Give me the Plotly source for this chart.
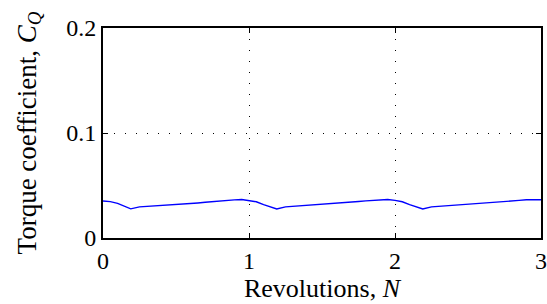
import plotly.graph_objects as go

revolutions = [0.00, 0.05, 0.10, 0.15, 0.19, 0.25, 0.30, 0.35, 0.40, 0.45, 0.50, 0.55, 0.60, 0.65, 0.70, 0.75, 0.80, 0.85, 0.90, 0.95,
               1.00, 1.05, 1.10, 1.15, 1.19, 1.25, 1.30, 1.35, 1.40, 1.45, 1.50, 1.55, 1.60, 1.65, 1.70, 1.75, 1.80, 1.85, 1.90, 1.95,
               2.00, 2.05, 2.10, 2.15, 2.19, 2.25, 2.30, 2.35, 2.40, 2.45, 2.50, 2.55, 2.60, 2.65, 2.70, 2.75, 2.80, 2.85, 2.90, 2.95, 3.00]
torque_coeff = [0.0352, 0.0346, 0.0330, 0.0300, 0.0278, 0.0296, 0.0300, 0.0304, 0.0308, 0.0312, 0.0318, 0.0322, 0.0328, 0.0334, 0.0340, 0.0347, 0.0353, 0.0358, 0.0363, 0.0367,
                0.0357, 0.0345, 0.0318, 0.0292, 0.0277, 0.0296, 0.0301, 0.0305, 0.0309, 0.0313, 0.0318, 0.0322, 0.0328, 0.0334, 0.0341, 0.0348, 0.0354, 0.0358, 0.0364, 0.0367,
                0.0358, 0.0345, 0.0318, 0.0292, 0.0277, 0.0296, 0.0301, 0.0305, 0.0309, 0.0313, 0.0318, 0.0322, 0.0328, 0.0334, 0.0341, 0.0348, 0.0353, 0.0358, 0.0364, 0.0366, 0.0364]
x_ticks = [0, 1, 2, 3]
y_ticks = [0, 0.1, 0.2]
y_tick_labels = ["0", "0.1", "0.2"]

FONT = "Liberation Serif, Times New Roman, serif"

fig = go.Figure()
fig.add_trace(go.Scatter(x=revolutions, y=torque_coeff, mode="lines",
                         line=dict(color="#0000ff", width=1.4), showlegend=False))

axis_common = dict(showline=True, mirror="ticks", linecolor="black", linewidth=2,
                   ticks="inside", ticklen=5, tickwidth=1, tickcolor="black",
                   showgrid=True, gridcolor="black", gridwidth=1, griddash="1px,10px",
                   zeroline=False, tickfont=dict(family=FONT, size=24, color="black"))

fig.update_xaxes(range=[0, 3], tickvals=x_ticks, ticktext=[str(t) for t in x_ticks],
                 title=dict(text="Revolutions, <i>N</i>", font=dict(family=FONT, size=26, color="black"), standoff=0),
                 **axis_common)
fig.update_yaxes(range=[0, 0.2], tickvals=y_ticks, ticktext=y_tick_labels,
                 title=dict(text="Torque coefficient, <i>C</i><sub><i>Q</i></sub>", font=dict(family=FONT, size=27, color="black"), standoff=22),
                 **axis_common)

fig.update_layout(width=547, height=304, margin=dict(l=103, r=6, t=28, b=66, autoexpand=False),
                  plot_bgcolor="white", paper_bgcolor="white")

fig.write_html("out.html", config={"displayModeBar": False},
               post_script="document.body.style.margin='0';document.body.style.padding='0';")
